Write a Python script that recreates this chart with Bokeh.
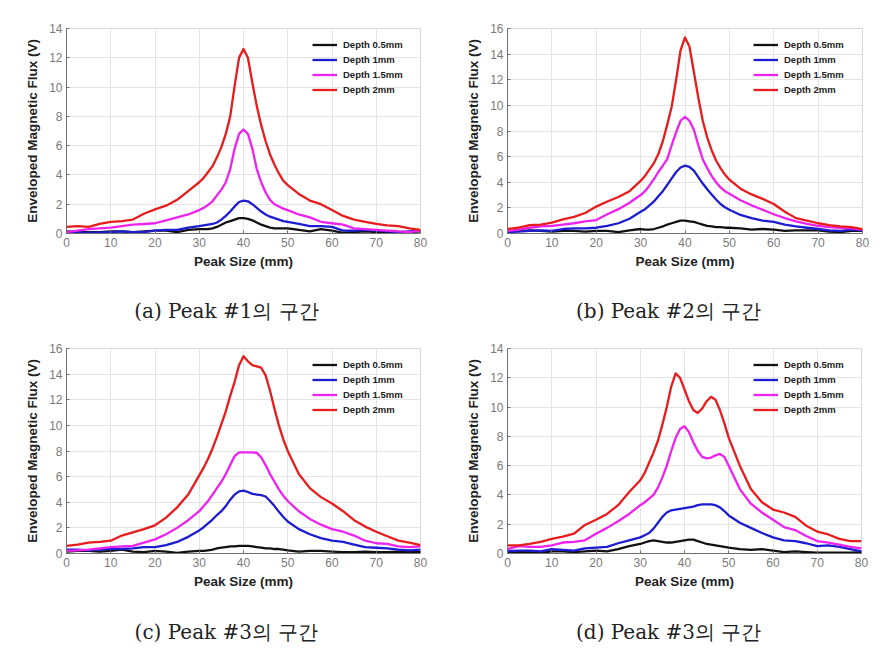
from bokeh.plotting import figure
from bokeh.layouts import column, row
from bokeh.models import Range1d, SingleIntervalTicker, Legend, LegendItem
from bokeh.embed import file_html
from bokeh.resources import INLINE
from bokeh.core.properties import value

# x positions (mm)
X = [0, 2.5, 5, 7.5, 10, 12.5, 15, 17.5, 20, 22.5, 25, 27.5,
     30, 31, 32, 33, 34, 35, 36, 37, 38, 39, 40, 41, 42, 43, 44, 45, 46, 47, 48, 49, 50,
     52.5, 55, 57.5, 60, 62.5, 65, 67.5, 70, 72.5, 75, 77.5, 80]

series_labels = ["Depth 0.5mm", "Depth 1mm", "Depth 1.5mm", "Depth 2mm"]
series_colors = ["#111111", "#1c1cd0", "#ee22ee", "#e81c1c"]

# (a) Peak #1
a_d05 = [0.15, 0.1, 0.1, 0.1, 0.15, 0.15, 0.1, 0.15, 0.2, 0.2, 0.1, 0.25,
         0.3, 0.3, 0.3, 0.35, 0.45, 0.6, 0.75, 0.85, 0.95, 1.05, 1.05, 1.0, 0.9, 0.75, 0.6, 0.5, 0.4, 0.35, 0.35, 0.35, 0.35,
         0.25, 0.15, 0.3, 0.2, 0.05, 0.1, 0.15, 0.1, 0.05, 0.05, 0.1, 0.15]
a_d10 = [0.1, 0.05, 0.05, 0.05, 0.1, 0.15, 0.1, 0.1, 0.2, 0.25, 0.25, 0.4,
         0.5, 0.55, 0.6, 0.65, 0.75, 0.95, 1.2, 1.5, 1.85, 2.15, 2.25, 2.2, 2.0, 1.75, 1.5, 1.3, 1.15, 1.05, 0.95, 0.85, 0.8,
         0.65, 0.5, 0.5, 0.45, 0.2, 0.2, 0.25, 0.2, 0.15, 0.1, 0.15, 0.2]
a_d15 = [0.1, 0.2, 0.3, 0.35, 0.4, 0.5, 0.6, 0.65, 0.7, 0.9, 1.1, 1.3,
         1.6, 1.75, 1.95, 2.2, 2.6, 3.0, 3.5, 4.4, 5.8, 6.8, 7.1, 6.8, 5.8, 4.4, 3.5, 2.8, 2.3, 2.0, 1.85, 1.7, 1.6,
         1.3, 1.1, 0.8, 0.7, 0.6, 0.35, 0.3, 0.25, 0.2, 0.15, 0.1, 0.2]
a_d20 = [0.45, 0.5, 0.45, 0.65, 0.8, 0.85, 0.95, 1.35, 1.65, 1.9, 2.3, 2.9,
         3.5, 3.8, 4.2, 4.6, 5.2, 5.9, 6.8, 8.0, 10.1, 12.0, 12.6, 12.0, 10.3, 8.7, 7.4, 6.3, 5.4, 4.7, 4.1, 3.6, 3.3,
         2.7, 2.25, 2.0, 1.6, 1.2, 0.95, 0.8, 0.65, 0.55, 0.5, 0.35, 0.25]

# (b) Peak #2
b_d05 = [0.15, 0.2, 0.25, 0.2, 0.15, 0.2, 0.2, 0.15, 0.2, 0.2, 0.1, 0.25,
         0.35, 0.3, 0.3, 0.35, 0.45, 0.55, 0.7, 0.8, 0.9, 1.0, 1.0, 0.95, 0.9, 0.8, 0.7, 0.6, 0.55, 0.5, 0.5, 0.45, 0.45,
         0.4, 0.3, 0.35, 0.3, 0.2, 0.25, 0.25, 0.25, 0.15, 0.1, 0.2, 0.2]
b_d10 = [0.1, 0.15, 0.2, 0.25, 0.2, 0.35, 0.4, 0.4, 0.45, 0.6, 0.8, 1.15,
         1.7, 1.9, 2.2, 2.5, 2.9, 3.3, 3.8, 4.3, 4.8, 5.15, 5.3, 5.2, 4.9, 4.4, 3.9, 3.45, 3.05, 2.65, 2.3, 2.05, 1.85,
         1.45, 1.2, 1.0, 0.9, 0.7, 0.55, 0.45, 0.35, 0.25, 0.2, 0.3, 0.25]
b_d15 = [0.2, 0.3, 0.45, 0.55, 0.6, 0.7, 0.8, 0.95, 1.05, 1.5, 1.9, 2.4,
         3.0, 3.3, 3.75, 4.25, 4.8, 5.3, 5.8, 6.9, 7.9, 8.8, 9.1, 8.8, 8.1, 6.9, 5.8, 5.1, 4.5, 4.0, 3.6, 3.3, 3.1,
         2.6, 2.2, 1.85, 1.5, 1.2, 0.95, 0.75, 0.6, 0.5, 0.45, 0.4, 0.3]
b_d20 = [0.35, 0.45, 0.65, 0.7, 0.85, 1.1, 1.3, 1.6, 2.1, 2.5, 2.85, 3.3,
         4.1, 4.5, 5.0, 5.5, 6.2, 7.2, 8.5, 9.9, 12.0, 14.3, 15.3, 14.6, 12.6, 10.6, 8.8, 7.5, 6.5, 5.7, 5.1, 4.6, 4.2,
         3.5, 3.05, 2.7, 2.3, 1.7, 1.2, 1.0, 0.8, 0.65, 0.55, 0.5, 0.35]

# (c) Peak #3
c_d05 = [0.15, 0.2, 0.2, 0.15, 0.2, 0.3, 0.15, 0.1, 0.2, 0.15, 0.05, 0.15,
         0.2, 0.2, 0.25, 0.3, 0.4, 0.45, 0.5, 0.55, 0.55, 0.6, 0.6, 0.6, 0.55, 0.5, 0.45, 0.4, 0.4, 0.35, 0.35, 0.3, 0.25,
         0.15, 0.2, 0.2, 0.15, 0.1, 0.1, 0.15, 0.1, 0.1, 0.15, 0.1, 0.1]
c_d10 = [0.3, 0.3, 0.25, 0.3, 0.35, 0.35, 0.4, 0.5, 0.5, 0.65, 0.9, 1.3,
         1.8, 2.05, 2.35, 2.65, 3.0, 3.3, 3.7, 4.2, 4.6, 4.85, 4.9, 4.8, 4.65, 4.6, 4.55, 4.45, 4.1, 3.7, 3.25, 2.85, 2.5,
         1.9, 1.5, 1.2, 1.0, 0.9, 0.7, 0.5, 0.45, 0.4, 0.3, 0.25, 0.3]
c_d15 = [0.2, 0.25, 0.3, 0.4, 0.5, 0.55, 0.6, 0.85, 1.1, 1.5, 2.0, 2.6,
         3.3, 3.7, 4.1, 4.6, 5.1, 5.6, 6.2, 6.9, 7.6, 7.9, 7.9, 7.9, 7.9, 7.85, 7.5, 6.9, 6.2, 5.6, 5.0, 4.5, 4.1,
         3.3, 2.7, 2.25, 1.9, 1.7, 1.4, 1.0, 0.8, 0.75, 0.55, 0.5, 0.55]
c_d20 = [0.6, 0.7, 0.85, 0.9, 1.0, 1.4, 1.65, 1.9, 2.2, 2.8, 3.6, 4.6,
         6.1, 6.7, 7.4, 8.2, 9.1, 10.1, 11.1, 12.3, 13.4, 14.7, 15.4, 15.0, 14.7, 14.6, 14.5, 13.9, 12.7, 11.3, 10.0, 8.9, 8.0,
         6.2, 5.1, 4.4, 3.9, 3.3, 2.6, 2.1, 1.7, 1.35, 1.0, 0.85, 0.65]

# (d) Peak #3
d_d05 = [0.1, 0.1, 0.1, 0.05, 0.15, 0.15, 0.1, 0.15, 0.2, 0.15, 0.3, 0.5,
         0.65, 0.75, 0.85, 0.9, 0.85, 0.8, 0.75, 0.75, 0.8, 0.85, 0.9, 0.95, 0.95, 0.85, 0.75, 0.65, 0.6, 0.55, 0.5, 0.45, 0.4,
         0.3, 0.25, 0.3, 0.2, 0.1, 0.15, 0.1, 0.05, 0.05, 0.05, 0.05, 0.1]
d_d10 = [0.15, 0.2, 0.2, 0.15, 0.3, 0.25, 0.2, 0.35, 0.4, 0.45, 0.7, 0.9,
         1.1, 1.25, 1.4, 1.7, 2.1, 2.5, 2.8, 2.95, 3.0, 3.05, 3.1, 3.15, 3.2, 3.3, 3.35, 3.35, 3.35, 3.3, 3.15, 2.9, 2.6,
         2.1, 1.75, 1.4, 1.1, 0.9, 0.85, 0.7, 0.5, 0.55, 0.45, 0.3, 0.15]
d_d15 = [0.3, 0.5, 0.45, 0.45, 0.55, 0.75, 0.8, 0.9, 1.35, 1.75, 2.2, 2.7,
         3.3, 3.5, 3.75, 4.0, 4.5, 5.2, 6.0, 7.0, 7.9, 8.5, 8.7, 8.3, 7.6, 7.0, 6.6, 6.5, 6.55, 6.7, 6.8, 6.6, 6.0,
         4.4, 3.4, 2.8, 2.3, 1.8, 1.6, 1.2, 0.85, 0.75, 0.6, 0.45, 0.35]
d_d20 = [0.55, 0.55, 0.65, 0.8, 1.0, 1.15, 1.35, 1.95, 2.3, 2.7, 3.3, 4.2,
         5.0, 5.5, 6.2, 6.9, 7.7, 8.8, 10.0, 11.4, 12.3, 12.0, 11.2, 10.4, 9.8, 9.6, 9.9, 10.4, 10.7, 10.5, 9.8, 8.9, 7.9,
         6.0, 4.4, 3.5, 3.0, 2.8, 2.5, 1.9, 1.5, 1.3, 1.0, 0.85, 0.85]

y_max = [14, 16, 16, 14]
captions = ["(a) Peak #1의 구간", "(b) Peak #2의 구간", "(c) Peak #3의 구간", "(d) Peak #3의 구간"]
x_label = "Peak Size (mm)"
y_label = "Enveloped Magnetic Flux (V)"

panels_data = [[a_d05, a_d10, a_d15, a_d20],
               [b_d05, b_d10, b_d15, b_d20],
               [c_d05, c_d10, c_d15, c_d20],
               [d_d05, d_d10, d_d15, d_d20]]


def make_panel(series, ymax, height, top, bottom, left, right):
    p = figure(width=444, height=height, x_range=Range1d(0, 80), y_range=Range1d(0, ymax),
               output_backend="svg", toolbar_location=None,
               min_border_left=left, min_border_right=right,
               min_border_top=top, min_border_bottom=bottom,
               background_fill_color="white", border_fill_color="white")
    p.xaxis.ticker = SingleIntervalTicker(interval=10, num_minor_ticks=0)
    p.yaxis.ticker = SingleIntervalTicker(interval=2, num_minor_ticks=0)
    for ax in (p.xaxis[0], p.yaxis[0]):
        ax.axis_line_color = "#707070"
        ax.major_tick_line_color = "#707070"
        ax.major_tick_in = 3
        ax.major_tick_out = 0
        ax.minor_tick_line_color = None
        ax.major_label_text_color = "#7a7a7a"
        ax.major_label_text_font = "Liberation Sans"
        ax.major_label_text_font_size = "12px"
        ax.axis_label_text_font = "Liberation Sans"
        ax.axis_label_text_font_style = "bold"
        ax.axis_label_text_font_size = "13.5px"
        ax.axis_label_text_color = "#222222"
    p.xaxis.axis_label = x_label
    p.yaxis.axis_label = y_label
    p.xaxis.major_label_standoff = 4
    p.xaxis.axis_label_standoff = 4
    p.yaxis.major_label_standoff = 4
    p.yaxis.axis_label_standoff = 6
    p.xgrid.grid_line_color = "#e4e4e4"
    p.ygrid.grid_line_color = "#e4e4e4"
    p.outline_line_color = "#d8d8d8"

    items = []
    for lab, col, ys in zip(series_labels, series_colors, series):
        r = p.line(X, ys, line_color=col, line_width=2.3, line_join="round")
        items.append(LegendItem(label=lab, renderers=[r]))
    leg = Legend(items=items, location=(246, 136), margin=0, padding=2, spacing=0,
                 glyph_width=25, glyph_height=15, label_height=15, label_standoff=6,
                 label_text_font="Liberation Sans", label_text_font_style="bold",
                 label_text_font_size="9.5px", label_text_color="#222222",
                 border_line_color=None, background_fill_alpha=0)
    p.add_layout(leg)
    return p


def make_caption(text, height, xc):
    c = figure(width=444, height=height, x_range=Range1d(0, 1), y_range=Range1d(0, 1),
               output_backend="svg", toolbar_location=None, min_border=0,
               x_axis_location=None, y_axis_location=None,
               background_fill_color="white", border_fill_color="white")
    c.grid.visible = False
    c.outline_line_color = None
    c.text(x=[xc], y=[0.5], text=[text], text_align="center", text_baseline="middle",
           text_font=value("DejaVu Serif"), text_font_size="20px", text_color="#222222")
    return c


pa = make_panel(panels_data[0], y_max[0], 290, 28, 57, 66, 24)
pb = make_panel(panels_data[1], y_max[1], 290, 28, 57, 63, 26)
pc = make_panel(panels_data[2], y_max[2], 280, 18, 57, 66, 24)
pd = make_panel(panels_data[3], y_max[3], 280, 18, 57, 63, 27)

ca = make_caption(captions[0], 40, 0.509)
cb = make_caption(captions[1], 40, 0.505)
cc = make_caption(captions[2], 42, 0.509)
cd = make_caption(captions[3], 42, 0.505)

layout = column(row(pa, pb), row(ca, cb), row(pc, pd), row(cc, cd))

open("out.html", "w").write(file_html(layout, INLINE))
